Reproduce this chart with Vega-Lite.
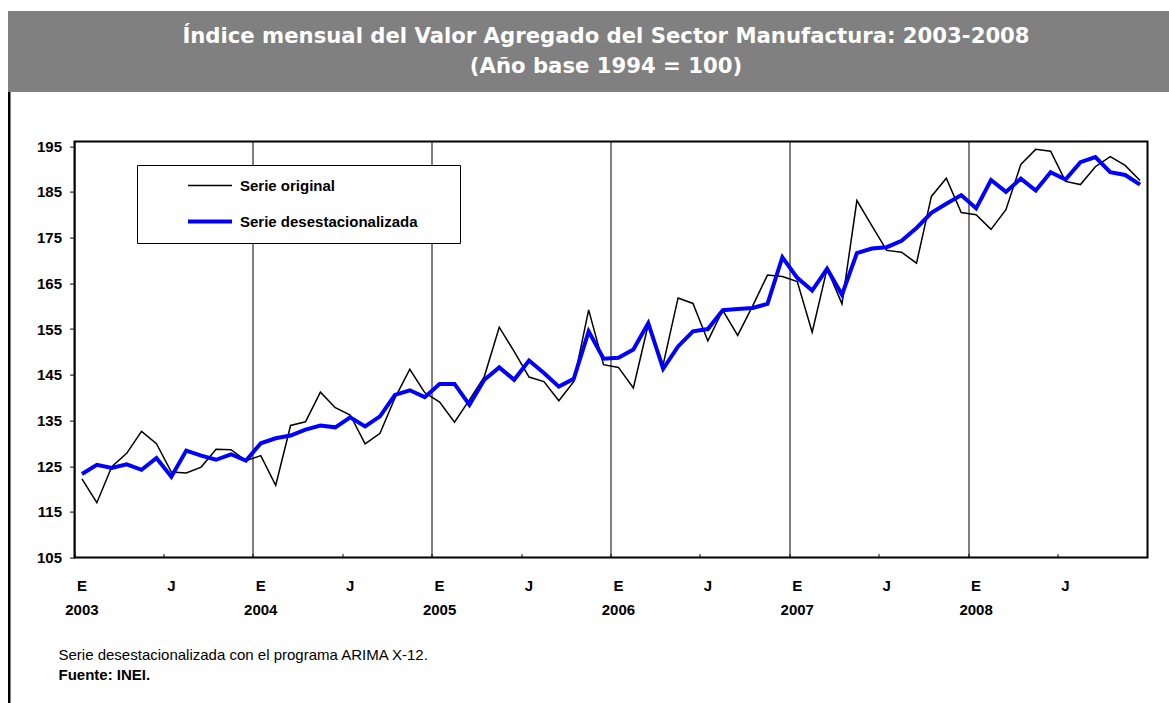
{
  "$schema": "https://vega.github.io/schema/vega-lite/v6.json",
  "padding": {"left": 8, "top": 11, "right": 0, "bottom": 0},
  "background": "white",
  "spacing": 0,
  "config": {
    "font": "Liberation Sans",
    "concat": {"spacing": 0}
  },
  "vconcat": [
    {
      "width": 1161,
      "height": 81,
      "view": {"fill": "#808080", "stroke": null},
      "data": {"values": [{"t": "Índice mensual del Valor Agregado del Sector Manufactura: 2003-2008\n(Año base 1994 = 100)"}]},
      "mark": {"type": "text", "lineBreak": "\n", "lineHeight": 30, "font": "DejaVu Sans", "fontWeight": "bold", "fontSize": 21.2, "color": "white", "align": "center", "baseline": "middle", "dx": 17.5, "dy": -15},
      "encoding": {"text": {"field": "t", "type": "nominal"}}
    },
    {
      "spacing": 23.5,
      "hconcat": [
        {
          "width": 2.5,
          "height": 611,
          "view": {"fill": "black", "stroke": null},
          "data": {"values": []},
          "mark": "text",
          "encoding": {}
        },
        {
          "spacing": 25.6,
          "vconcat": [
            {
              "width": 1,
              "height": 0,
              "view": {"stroke": null},
              "data": {"values": []},
              "mark": "text",
              "encoding": {}
            },
            {
              "width": 1073,
              "height": 416,
              "view": {"stroke": "black", "strokeWidth": 2},
              "title": {
                "text": "Serie desestacionalizada con el programa ARIMA X-12.",
                "subtitle": "Fuente: INEI.",
                "orient": "bottom",
                "anchor": "start",
                "frame": "group",
                "dx": -16,
                "offset": 31,
                "font": "Liberation Sans",
                "fontSize": 15,
                "fontWeight": "normal",
                "color": "black",
                "subtitleFont": "Liberation Sans",
                "subtitleFontSize": 15,
                "subtitleFontWeight": "bold",
                "subtitleColor": "black",
                "subtitlePadding": 5
              },
              "data": {"values": [
                {"mes": "2003-01", "Serie original": 122.2, "Serie desestacionalizada": 123.3},
                {"mes": "2003-02", "Serie original": 117.0, "Serie desestacionalizada": 125.3},
                {"mes": "2003-03", "Serie original": 124.9, "Serie desestacionalizada": 124.6},
                {"mes": "2003-04", "Serie original": 127.8, "Serie desestacionalizada": 125.4},
                {"mes": "2003-05", "Serie original": 132.6, "Serie desestacionalizada": 124.2},
                {"mes": "2003-06", "Serie original": 129.9, "Serie desestacionalizada": 126.8},
                {"mes": "2003-07", "Serie original": 123.7, "Serie desestacionalizada": 122.7},
                {"mes": "2003-08", "Serie original": 123.5, "Serie desestacionalizada": 128.4},
                {"mes": "2003-09", "Serie original": 124.8, "Serie desestacionalizada": 127.3},
                {"mes": "2003-10", "Serie original": 128.7, "Serie desestacionalizada": 126.4},
                {"mes": "2003-11", "Serie original": 128.6, "Serie desestacionalizada": 127.6},
                {"mes": "2003-12", "Serie original": 126.2, "Serie desestacionalizada": 126.2},
                {"mes": "2004-01", "Serie original": 127.3, "Serie desestacionalizada": 130.0},
                {"mes": "2004-02", "Serie original": 120.8, "Serie desestacionalizada": 131.1},
                {"mes": "2004-03", "Serie original": 133.9, "Serie desestacionalizada": 131.7},
                {"mes": "2004-04", "Serie original": 134.7, "Serie desestacionalizada": 133.0},
                {"mes": "2004-05", "Serie original": 141.2, "Serie desestacionalizada": 133.9},
                {"mes": "2004-06", "Serie original": 137.8, "Serie desestacionalizada": 133.5},
                {"mes": "2004-07", "Serie original": 136.2, "Serie desestacionalizada": 135.7},
                {"mes": "2004-08", "Serie original": 129.9, "Serie desestacionalizada": 133.7},
                {"mes": "2004-09", "Serie original": 132.2, "Serie desestacionalizada": 135.9},
                {"mes": "2004-10", "Serie original": 139.9, "Serie desestacionalizada": 140.6},
                {"mes": "2004-11", "Serie original": 146.2, "Serie desestacionalizada": 141.6},
                {"mes": "2004-12", "Serie original": 141.1, "Serie desestacionalizada": 140.1},
                {"mes": "2005-01", "Serie original": 139.0, "Serie desestacionalizada": 143.0},
                {"mes": "2005-02", "Serie original": 134.6, "Serie desestacionalizada": 143.0},
                {"mes": "2005-03", "Serie original": 139.5, "Serie desestacionalizada": 138.4},
                {"mes": "2005-04", "Serie original": 144.6, "Serie desestacionalizada": 143.9},
                {"mes": "2005-05", "Serie original": 155.4, "Serie desestacionalizada": 146.6},
                {"mes": "2005-06", "Serie original": 150.1, "Serie desestacionalizada": 143.9},
                {"mes": "2005-07", "Serie original": 144.5, "Serie desestacionalizada": 148.1},
                {"mes": "2005-08", "Serie original": 143.5, "Serie desestacionalizada": 145.4},
                {"mes": "2005-09", "Serie original": 139.3, "Serie desestacionalizada": 142.4},
                {"mes": "2005-10", "Serie original": 143.5, "Serie desestacionalizada": 144.1},
                {"mes": "2005-11", "Serie original": 159.2, "Serie desestacionalizada": 154.5},
                {"mes": "2005-12", "Serie original": 147.2, "Serie desestacionalizada": 148.5},
                {"mes": "2006-01", "Serie original": 146.6, "Serie desestacionalizada": 148.7},
                {"mes": "2006-02", "Serie original": 142.1, "Serie desestacionalizada": 150.5},
                {"mes": "2006-03", "Serie original": 156.0, "Serie desestacionalizada": 156.3},
                {"mes": "2006-04", "Serie original": 147.2, "Serie desestacionalizada": 146.3},
                {"mes": "2006-05", "Serie original": 161.8, "Serie desestacionalizada": 151.2},
                {"mes": "2006-06", "Serie original": 160.6, "Serie desestacionalizada": 154.5},
                {"mes": "2006-07", "Serie original": 152.4, "Serie desestacionalizada": 155.0},
                {"mes": "2006-08", "Serie original": 159.1, "Serie desestacionalizada": 159.1},
                {"mes": "2006-09", "Serie original": 153.6, "Serie desestacionalizada": 159.4},
                {"mes": "2006-10", "Serie original": 160.0, "Serie desestacionalizada": 159.6},
                {"mes": "2006-11", "Serie original": 166.8, "Serie desestacionalizada": 160.5},
                {"mes": "2006-12", "Serie original": 166.5, "Serie desestacionalizada": 170.7},
                {"mes": "2007-01", "Serie original": 165.4, "Serie desestacionalizada": 166.2},
                {"mes": "2007-02", "Serie original": 154.3, "Serie desestacionalizada": 163.4},
                {"mes": "2007-03", "Serie original": 168.2, "Serie desestacionalizada": 168.2},
                {"mes": "2007-04", "Serie original": 160.5, "Serie desestacionalizada": 162.5},
                {"mes": "2007-05", "Serie original": 183.1, "Serie desestacionalizada": 171.6},
                {"mes": "2007-06", "Serie original": 177.6, "Serie desestacionalizada": 172.6},
                {"mes": "2007-07", "Serie original": 172.2, "Serie desestacionalizada": 172.9},
                {"mes": "2007-08", "Serie original": 171.8, "Serie desestacionalizada": 174.3},
                {"mes": "2007-09", "Serie original": 169.4, "Serie desestacionalizada": 177.1},
                {"mes": "2007-10", "Serie original": 184.0, "Serie desestacionalizada": 180.4},
                {"mes": "2007-11", "Serie original": 188.0, "Serie desestacionalizada": 182.4},
                {"mes": "2007-12", "Serie original": 180.5, "Serie desestacionalizada": 184.3},
                {"mes": "2008-01", "Serie original": 180.0, "Serie desestacionalizada": 181.4},
                {"mes": "2008-02", "Serie original": 176.8, "Serie desestacionalizada": 187.6},
                {"mes": "2008-03", "Serie original": 181.1, "Serie desestacionalizada": 185.0},
                {"mes": "2008-04", "Serie original": 191.0, "Serie desestacionalizada": 187.9},
                {"mes": "2008-05", "Serie original": 194.3, "Serie desestacionalizada": 185.3},
                {"mes": "2008-06", "Serie original": 193.9, "Serie desestacionalizada": 189.3},
                {"mes": "2008-07", "Serie original": 187.3, "Serie desestacionalizada": 187.7},
                {"mes": "2008-08", "Serie original": 186.6, "Serie desestacionalizada": 191.5},
                {"mes": "2008-09", "Serie original": 190.5, "Serie desestacionalizada": 192.6},
                {"mes": "2008-10", "Serie original": 192.7, "Serie desestacionalizada": 189.3},
                {"mes": "2008-11", "Serie original": 190.8, "Serie desestacionalizada": 188.7},
                {"mes": "2008-12", "Serie original": 187.5, "Serie desestacionalizada": 186.6}
              ]},
              "transform": [{"fold": ["Serie original", "Serie desestacionalizada"], "as": ["serie", "valor"]}],
              "encoding": {
                "x": {
                  "field": "mes",
                  "type": "ordinal",
                  "scale": {"type": "band", "paddingInner": 0, "paddingOuter": 0},
                  "axis": {
                    "title": null,
                    "values": ["2003-01","2003-07","2004-01","2004-07","2005-01","2005-07","2006-01","2006-07","2007-01","2007-07","2008-01","2008-07"],
                    "bandPosition": 0,
                    "labelExpr": "slice(datum.value,5)=='01' ? ['E', slice(datum.value,0,4)] : 'J'",
                    "labelAngle": 0,
                    "labelAlign": "center",
                    "labelBaseline": "top",
                    "labelOffset": 0,
                    "labelFont": "Liberation Sans",
                    "labelFontSize": 15,
                    "labelFontWeight": "bold",
                    "labelColor": "black",
                    "labelLineHeight": 24,
                    "labelPadding": 24.5,
                    "tickSize": -4,
                    "tickColor": "black",
                    "tickWidth": 1,
                    "domain": false,
                    "grid": true,
                    "gridColor": "black",
                    "gridWidth": 1,
                    "gridOpacity": {"condition": {"test": "slice(datum.value,5)=='01'", "value": 1}, "value": 0}
                  }
                },
                "y": {
                  "field": "valor",
                  "type": "quantitative",
                  "scale": {"domain": [105, 196], "nice": false, "zero": false},
                  "axis": {
                    "title": null,
                    "values": [105, 115, 125, 135, 145, 155, 165, 175, 185, 195],
                    "tickSize": 5,
                    "tickColor": "black",
                    "tickWidth": 1,
                    "labelPadding": 8,
                    "labelFont": "Liberation Sans",
                    "labelFontSize": 15,
                    "labelFontWeight": "bold",
                    "labelColor": "black",
                    "domain": false,
                    "grid": false
                  }
                },
                "color": {
                  "field": "serie",
                  "type": "nominal",
                  "scale": {"domain": ["Serie original", "Serie desestacionalizada"], "range": ["#000000", "#0000ff"]},
                  "legend": {
                    "title": null,
                    "orient": "none",
                    "legendX": 129,
                    "legendY": 154,
                    "fillColor": "white",
                    "strokeColor": "black",
                    "padding": 13,
                    "rowPadding": 19,
                    "symbolType": "M-4,0H4",
                    "symbolSize": 121,
                    "symbolOffset": 52.5,
                    "labelOffset": 22.5,
                    "labelFont": "Liberation Sans",
                    "labelFontSize": 15,
                    "labelFontWeight": "bold",
                    "labelColor": "black",
                    "labelLimit": 400,
                    "labelExpr": "datum.label + '\u00a0\u00a0\u00a0\u00a0\u00a0\u00a0\u00a0\u200b'"
                  }
                },
                "strokeWidth": {
                  "field": "serie",
                  "type": "nominal",
                  "scale": {"domain": ["Serie original", "Serie desestacionalizada"], "range": [1.5, 4]}
                }
              },
              "layer": [
                {"transform": [{"filter": "datum.serie == 'Serie original'"}], "mark": {"type": "line"}},
                {"transform": [{"filter": "datum.serie == 'Serie desestacionalizada'"}], "mark": {"type": "line"}}
              ]
            }
          ]
        }
      ]
    }
  ]
}
